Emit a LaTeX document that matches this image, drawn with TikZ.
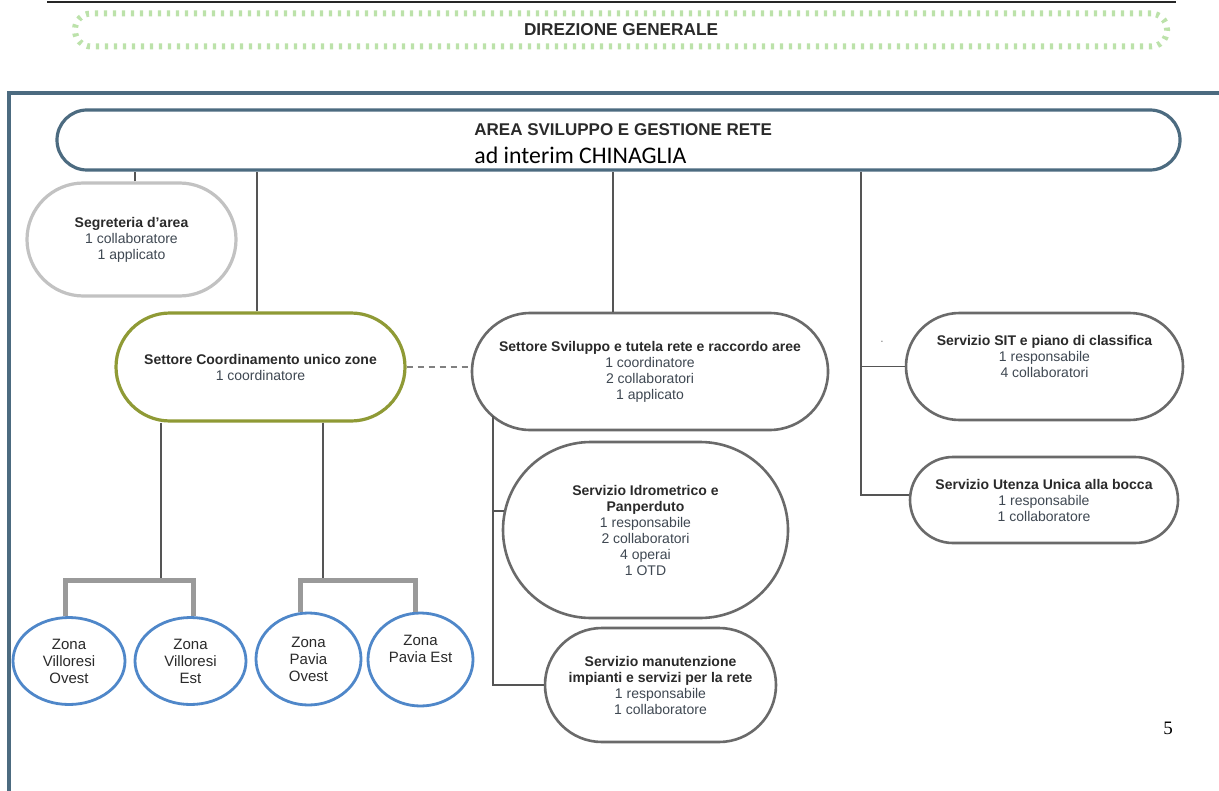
\documentclass[tikz,border=0pt]{standalone}
\usepackage{fontspec}
\usetikzlibrary{shapes.misc,shapes.geometric}
\setmainfont{Liberation Sans}
\newfontfamily\carlito{Carlito}
\newfontfamily\lserif{Liberation Serif}
\definecolor{framec}{HTML}{4C6B80}
\definecolor{olivec}{HTML}{8F9A35}
\definecolor{grayb}{HTML}{6A6A6A}
\definecolor{lightb}{HTML}{C2C2C2}
\definecolor{bluec}{HTML}{4F87C9}
\definecolor{brackc}{HTML}{9A9A9A}
\definecolor{linec}{HTML}{555555}
\definecolor{dotg}{HTML}{BCE2AA}
\definecolor{ttl}{HTML}{2A2A2A}
\definecolor{cnt}{HTML}{3F4852}
\newcommand\orghd[1]{{\color{ttl}\bfseries #1}}
\tikzset{
  unit/.style={rounded rectangle, draw, fill=white, line width=1.3pt, align=center, inner sep=0pt,
    font=\fontsize{7}{8}\selectfont, text=cnt},
  zone/.style={ellipse, draw=bluec, fill=white, line width=1.4pt, align=center, inner sep=0pt,
    font=\fontsize{7.5}{8.5}\selectfont, text=ttl},
  conn/.style={draw=linec, line width=0.6pt},
  bracket/.style={draw=brackc, line width=2.5pt},
}
\begin{document}
\begin{tikzpicture}[x=0.5pt,y=-0.5pt]
\useasboundingbox (0,0) rectangle (1219,791);
\fill[white] (0,0) rectangle (1219,791);

% top rule and general direction
\draw[line width=1.1pt, black!85] (47,2) -- (1176,2);
\node[draw=dotg, line width=3pt, dash pattern=on 1.6pt off 2.9pt, rounded corners=8pt,
  minimum width=546pt, minimum height=16.5pt, inner sep=0pt,
  font=\fontsize{8.6}{9}\selectfont\bfseries, text=ttl] (dg) at (621,30) {DIREZIONE GENERALE};

% frame
\draw[draw=framec, line width=2pt] (9,791) -- (9,93) -- (1219,93);

% area
\node[unit, draw=framec, line width=1.6pt, minimum width=561.5pt, minimum height=30pt] (area) at (618.5,140) {};
\node[anchor=west, align=left, inner sep=0pt] (areatext) at (474,144)
  {{\fontsize{8.5}{9}\selectfont\orghd{AREA SVILUPPO E GESTIONE RETE}}\\[2pt]
   {\carlito\fontsize{11.9}{12}\selectfont\color{black} ad interim CHINAGLIA}};

% units
\node[unit, draw=lightb, line width=1.6pt, minimum width=104.5pt, minimum height=56.5pt] (seg) at (131.5,239.5)
  {\orghd{Segreteria d'area}\\1 collaboratore\\1 applicato};
\node[unit, draw=olivec, line width=1.6pt, minimum width=144.5pt, minimum height=54pt] (coord) at (260.5,367)
  {\orghd{Settore Coordinamento unico zone}\\1 coordinatore};
\node[unit, draw=grayb, minimum width=178pt, minimum height=58.5pt] (svil) at (650,371.5)
  {\orghd{Settore Sviluppo e tutela rete e raccordo aree}\\1 coordinatore\\2 collaboratori\\1 applicato};
\node[unit, draw=grayb, minimum width=142.5pt, minimum height=88pt] (idro) at (645.5,530)
  {\orghd{Servizio Idrometrico e}\\\orghd{Panperduto}\\1 responsabile\\2 collaboratori\\4 operai\\1 OTD};
\node[unit, draw=grayb, minimum width=115.5pt, minimum height=57pt] (manu) at (660.5,685)
  {\orghd{Servizio manutenzione}\\\orghd{impianti e servizi per la rete}\\1 responsabile\\1 collaboratore};
\node[unit, draw=grayb, minimum width=138.5pt, minimum height=53.5pt] (sit) at (1044.5,366.5)
  {\orghd{Servizio SIT e piano di classifica}\\1 responsabile\\4 collaboratori\\\strut};
\node[unit, draw=grayb, minimum width=134pt, minimum height=43pt] (ute) at (1044,500)
  {\orghd{Servizio Utenza Unica alla bocca}\\1 responsabile\\1 collaboratore};
\node[inner sep=0pt, font=\fontsize{6}{6}\selectfont, text=gray] (dot) at (882,342) {.};

% zones
\node[zone, minimum width=56pt, minimum height=43.5pt] (zvo) at (69,661)
  {Zona\\Villoresi\\Ovest};
\node[zone, minimum width=55.5pt, minimum height=43.5pt] (zve) at (190.5,661)
  {Zona\\Villoresi\\Est};
\node[zone, minimum width=52.5pt, minimum height=46pt] (zpo) at (308.5,659)
  {Zona\\Pavia\\Ovest};
\node[zone, minimum width=52.5pt, minimum height=46.5pt] (zpe) at (420.5,659.5)
  {Zona\\Pavia Est\\\strut};

% connectors from area
\draw[conn] ([xshift=1.75pt]seg.north) -- ([xshift=1.75pt]seg.north |- area.south);
\draw[conn] ([xshift=-1.75pt]coord.north) -- ([xshift=-1.75pt]coord.north |- area.south);
\draw[conn] ([xshift=-18.5pt]svil.north) -- ([xshift=-18.5pt]svil.north |- area.south);
\coordinate (trR) at (861,0);
\draw[conn] (trR |- area.south) |- (sit.west);
\draw[conn] (trR |- sit.west) |- ([yshift=2.5pt]ute.west);

% dashed link
\draw[draw=gray, line width=0.6pt, dash pattern=on 3pt off 2.5pt] (coord.east) -- (coord.east -| svil.west);

% sviluppo trunk
\coordinate (trS) at (493,416);
\draw[conn] (trS) |- ([yshift=9.5pt,xshift=1pt]idro.west);
\draw[conn] (trS) |- (manu.west);

% coordination to zones
\coordinate (jL) at (161,580);
\coordinate (jR) at (323,580);
\draw[conn] (jL |- coord.south) -- (jL);
\draw[conn] (jR |- coord.south) -- (jR);
\draw[bracket] ([xshift=-2pt]zvo.north) -- ([xshift=-2pt]zvo.north |- jL) -| ([xshift=1.25pt]zve.north);
\draw[bracket] ([xshift=-4.25pt]zpo.north) -- ([xshift=-4.25pt]zpo.north |- jR) -| ([xshift=-2.75pt]zpe.north);

% page number
\node[font=\lserif\fontsize{9.5}{10}\selectfont, inner sep=0pt] (pg) at (1168,728) {5};
\end{tikzpicture}
\end{document}
